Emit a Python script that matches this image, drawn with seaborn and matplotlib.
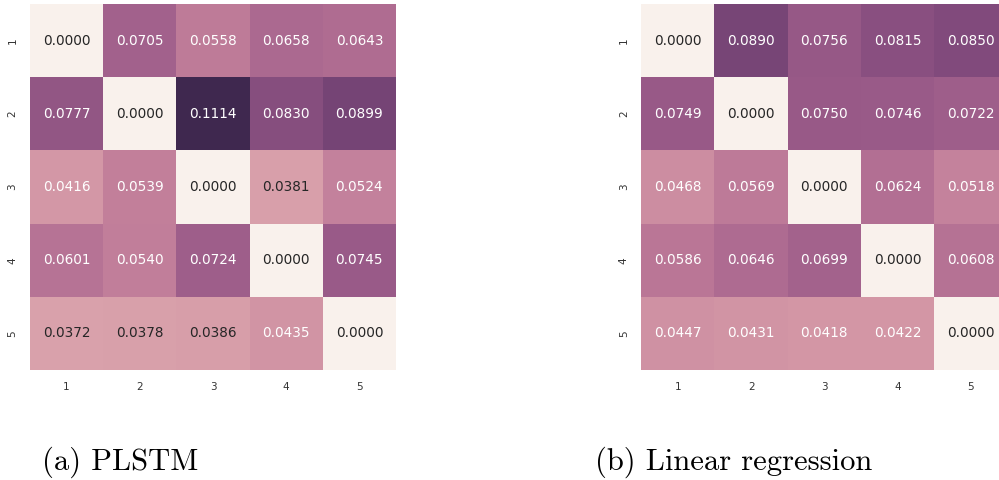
import numpy as np
import pandas as pd
import seaborn as sns
import matplotlib
matplotlib.use("Agg")
import matplotlib.pyplot as plt

labels = ["1", "2", "3", "4", "5"]

plstm = [
    [0.0000, 0.0705, 0.0558, 0.0658, 0.0643],
    [0.0777, 0.0000, 0.1114, 0.0830, 0.0899],
    [0.0416, 0.0539, 0.0000, 0.0381, 0.0524],
    [0.0601, 0.0540, 0.0724, 0.0000, 0.0745],
    [0.0372, 0.0378, 0.0386, 0.0435, 0.0000],
]

linreg = [
    [0.0000, 0.0890, 0.0756, 0.0815, 0.0850],
    [0.0749, 0.0000, 0.0750, 0.0746, 0.0722],
    [0.0468, 0.0569, 0.0000, 0.0624, 0.0518],
    [0.0586, 0.0646, 0.0699, 0.0000, 0.0608],
    [0.0447, 0.0431, 0.0418, 0.0422, 0.0000],
]

captions = ["(a) PLSTM", "(b) Linear regression"]

sns.set_theme(style="white")

cmap = sns.cubehelix_palette(light=0.95, dark=0.2, as_cmap=True)
vmax = max(np.max(plstm), np.max(linreg))

fig = plt.figure(figsize=(9.99, 4.8), dpi=100)
ax_left = fig.add_axes([30 / 999, 110 / 480, 366 / 999, 366 / 480])
ax_right = fig.add_axes([641.3 / 999, 110 / 480, 366 / 999, 366 / 480])

for ax, mat, cap, cx in zip([ax_left, ax_right], [plstm, linreg], captions,
                            [42 / 999, 595 / 999]):
    df = pd.DataFrame(mat, index=labels, columns=labels)
    sns.heatmap(df, ax=ax, cmap=cmap, vmin=0.0, vmax=vmax, annot=True,
                fmt=".4f", cbar=False, square=False,
                annot_kws={"fontsize": 9.8})
    ax.tick_params(axis="both", length=0, labelsize=7.5, colors="#333333",
                   pad=9)
    ax.set_yticklabels(labels, rotation=90, va="center")
    ax.set_xticklabels(labels, rotation=0)
    fig.text(cx, 10 / 480, cap, fontfamily="cmr10", fontsize=22,
             ha="left", va="baseline", color="black")

fig.savefig("out.png", dpi=100)
